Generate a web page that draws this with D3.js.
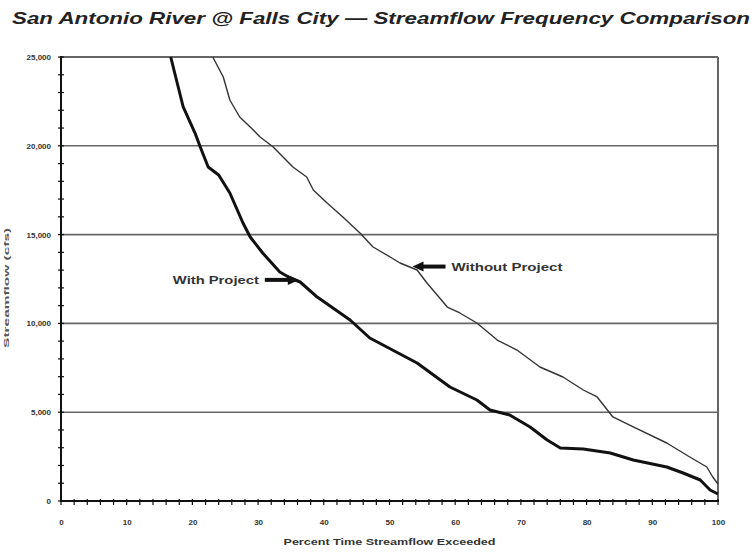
<!DOCTYPE html>
<html>
<head>
<meta charset="utf-8">
<script src="https://cdn.jsdelivr.net/npm/d3@7"></script>
<style>
  html, body { margin: 0; padding: 0; background: #fff; }
  svg { display: block; }
  text { font-family: "Liberation Sans", Arial, sans-serif; }
</style>
</head>
<body>
<div id="chart"></div>
<script>
const titleText = "San Antonio River @ Falls City \u2014 Streamflow Frequency Comparison";
const xTitle = "Percent Time Streamflow Exceeded";
const yTitle = "Streamflow (cfs)";

const xTickValues = [0, 10, 20, 30, 40, 50, 60, 70, 80, 90, 100];
const yTickValues = [0, 5000, 10000, 15000, 20000, 25000];

const withPct = [16.7, 18.6, 20.4, 21.2, 22.4, 24.0, 25.7, 27.7, 28.8, 30.7, 33.3, 34.9, 36.4, 39.0, 44.0, 47.0, 54.2, 59.2, 63.3, 65.3, 68.3, 71.4, 74.0, 76.0, 79.5, 83.6, 87.1, 92.2, 94.7, 97.3, 98.8, 100];
const withFlow = [25000, 22185, 20720, 19930, 18806, 18356, 17342, 15653, 14865, 13964, 12894, 12556, 12331, 11486, 10191, 9178, 7770, 6419, 5687, 5124, 4842, 4167, 3435, 2984, 2928, 2703, 2309, 1914, 1577, 1182, 619, 394];

const withoutPct = [23.1, 24.7, 25.7, 27.2, 28.8, 30.3, 32.3, 33.8, 35.3, 37.4, 38.4, 40.5, 42.9, 45.5, 47.5, 50.1, 51.6, 54.2, 55.7, 58.8, 60.7, 63.3, 66.4, 69.4, 72.9, 76.4, 79.5, 81.6, 84.0, 87.1, 92.2, 95.7, 98.3, 99.2, 100];
const withoutFlow = [25000, 23874, 22579, 21622, 21059, 20495, 19932, 19369, 18806, 18243, 17511, 16779, 15991, 15090, 14302, 13739, 13401, 13007, 12275, 10923, 10586, 10023, 9065, 8502, 7545, 6982, 6250, 5856, 4730, 4167, 3266, 2477, 1914, 1351, 957];

const annotations = [
  { label: "With Project", pct: 36.2, flow: 12450, dir: "right" },
  { label: "Without Project", pct: 53.5, flow: 13200, dir: "left" }
];

const W = 754, H = 553;
const svg = d3.select("#chart").append("svg").attr("width", W).attr("height", H);

const x = d3.scaleLinear().domain([0, 100]).range([61, 718]);
const y = d3.scaleLinear().domain([0, 25000]).range([501, 57]);

// title
svg.append("text").attr("x", 12).attr("y", 24)
  .attr("font-size", 17).attr("font-weight", "bold").attr("font-style", "italic")
  .attr("fill", "#222").attr("textLength", 738).attr("lengthAdjust", "spacingAndGlyphs")
  .text(titleText);

// gridlines
svg.append("g").selectAll("line").data(yTickValues.filter(d => d > 0 && d < 25000)).join("line")
  .attr("x1", x(0)).attr("x2", x(100)).attr("y1", d => y(d)).attr("y2", d => y(d))
  .attr("stroke", "#666").attr("stroke-width", 1.6);

// frame top and right
svg.append("line").attr("x1", x(0)).attr("x2", x(100)).attr("y1", y(25000)).attr("y2", y(25000))
  .attr("stroke", "#666").attr("stroke-width", 2);
svg.append("line").attr("x1", x(100)).attr("x2", x(100)).attr("y1", y(25000)).attr("y2", y(0))
  .attr("stroke", "#666").attr("stroke-width", 2);

// y axis
const yAxis = d3.axisLeft(y).tickValues(yTickValues).tickFormat(d3.format(",")).tickSize(0).tickPadding(10);
const gy = svg.append("g").attr("transform", `translate(${x(0)},0)`).call(yAxis);
gy.select(".domain").remove();
gy.selectAll("text").attr("font-size", 8).attr("font-weight", "bold").attr("fill", "#333")
  .attr("font-family", "'Liberation Sans', Arial, sans-serif");
// minor y ticks
svg.append("g").selectAll("line").data(d3.range(0, 25001, 1000)).join("line")
  .attr("x1", x(0) - 3).attr("x2", x(0) + 3).attr("y1", d => y(d)).attr("y2", d => y(d))
  .attr("stroke", "#111").attr("stroke-width", 1.2);

// x axis
const xAxis = d3.axisBottom(x).tickValues(xTickValues).tickSize(0).tickPadding(18);
const gx = svg.append("g").attr("transform", `translate(0,${y(0)})`).call(xAxis);
gx.select(".domain").remove();
gx.selectAll("text").attr("font-size", 8).attr("font-weight", "bold").attr("fill", "#333")
  .attr("font-family", "'Liberation Sans', Arial, sans-serif");
svg.append("g").selectAll("line").data(d3.range(0, 101, 2)).join("line")
  .attr("x1", d => x(d)).attr("x2", d => x(d)).attr("y1", y(0) - 2).attr("y2", y(0) + 4)
  .attr("stroke", "#111").attr("stroke-width", 1.2);

// axis lines
svg.append("line").attr("x1", x(0)).attr("x2", x(0)).attr("y1", y(25000) - 1).attr("y2", y(0) + 1)
  .attr("stroke", "#111").attr("stroke-width", 2);
svg.append("line").attr("x1", x(0) - 1).attr("x2", x(100) + 1).attr("y1", y(0)).attr("y2", y(0))
  .attr("stroke", "#111").attr("stroke-width", 2.2);

// axis titles
svg.append("text").attr("x", (x(0) + x(100)) / 2).attr("y", 545).attr("text-anchor", "middle")
  .attr("font-size", 9).attr("font-weight", "bold").attr("fill", "#333")
  .attr("textLength", 212).attr("lengthAdjust", "spacingAndGlyphs").text(xTitle);
svg.append("text").attr("transform", `translate(9,${y(12000)}) rotate(-90)`).attr("text-anchor", "middle")
  .attr("font-size", 8).attr("font-weight", "bold").attr("fill", "#555")
  .attr("textLength", 120).attr("lengthAdjust", "spacingAndGlyphs").text(yTitle);

// lines
const line = d3.line().x(d => x(d[0])).y(d => y(d[1]));
svg.append("path").datum(d3.zip(withoutPct, withoutFlow)).attr("d", line)
  .attr("fill", "none").attr("stroke", "#333").attr("stroke-width", 1.4).attr("stroke-linejoin", "round");
svg.append("path").datum(d3.zip(withPct, withFlow)).attr("d", line)
  .attr("fill", "none").attr("stroke", "#111").attr("stroke-width", 3).attr("stroke-linejoin", "round");

// annotations
annotations.forEach(a => {
  const px = x(a.pct), py = y(a.flow);
  const g = svg.append("g");
  if (a.dir === "right") {
    g.append("line").attr("x1", px - 34).attr("x2", px - 9).attr("y1", py).attr("y2", py)
      .attr("stroke", "#111").attr("stroke-width", 4);
    g.append("path").attr("d", `M${px},${py} L${px - 11},${py - 5} L${px - 11},${py + 5} Z`).attr("fill", "#111");
    g.append("text").attr("x", px - 40).attr("y", py + 4).attr("text-anchor", "end")
      .attr("font-size", 10).attr("font-weight", "bold").attr("fill", "#333")
      .attr("textLength", 86).attr("lengthAdjust", "spacingAndGlyphs").text(a.label);
  } else {
    g.append("line").attr("x1", px + 9).attr("x2", px + 33).attr("y1", py).attr("y2", py)
      .attr("stroke", "#111").attr("stroke-width", 4);
    g.append("path").attr("d", `M${px},${py} L${px + 11},${py - 5} L${px + 11},${py + 5} Z`).attr("fill", "#111");
    g.append("text").attr("x", px + 39).attr("y", py + 4).attr("text-anchor", "start")
      .attr("font-size", 10).attr("font-weight", "bold").attr("fill", "#333")
      .attr("textLength", 111).attr("lengthAdjust", "spacingAndGlyphs").text(a.label);
  }
});
</script>
</body>
</html>
